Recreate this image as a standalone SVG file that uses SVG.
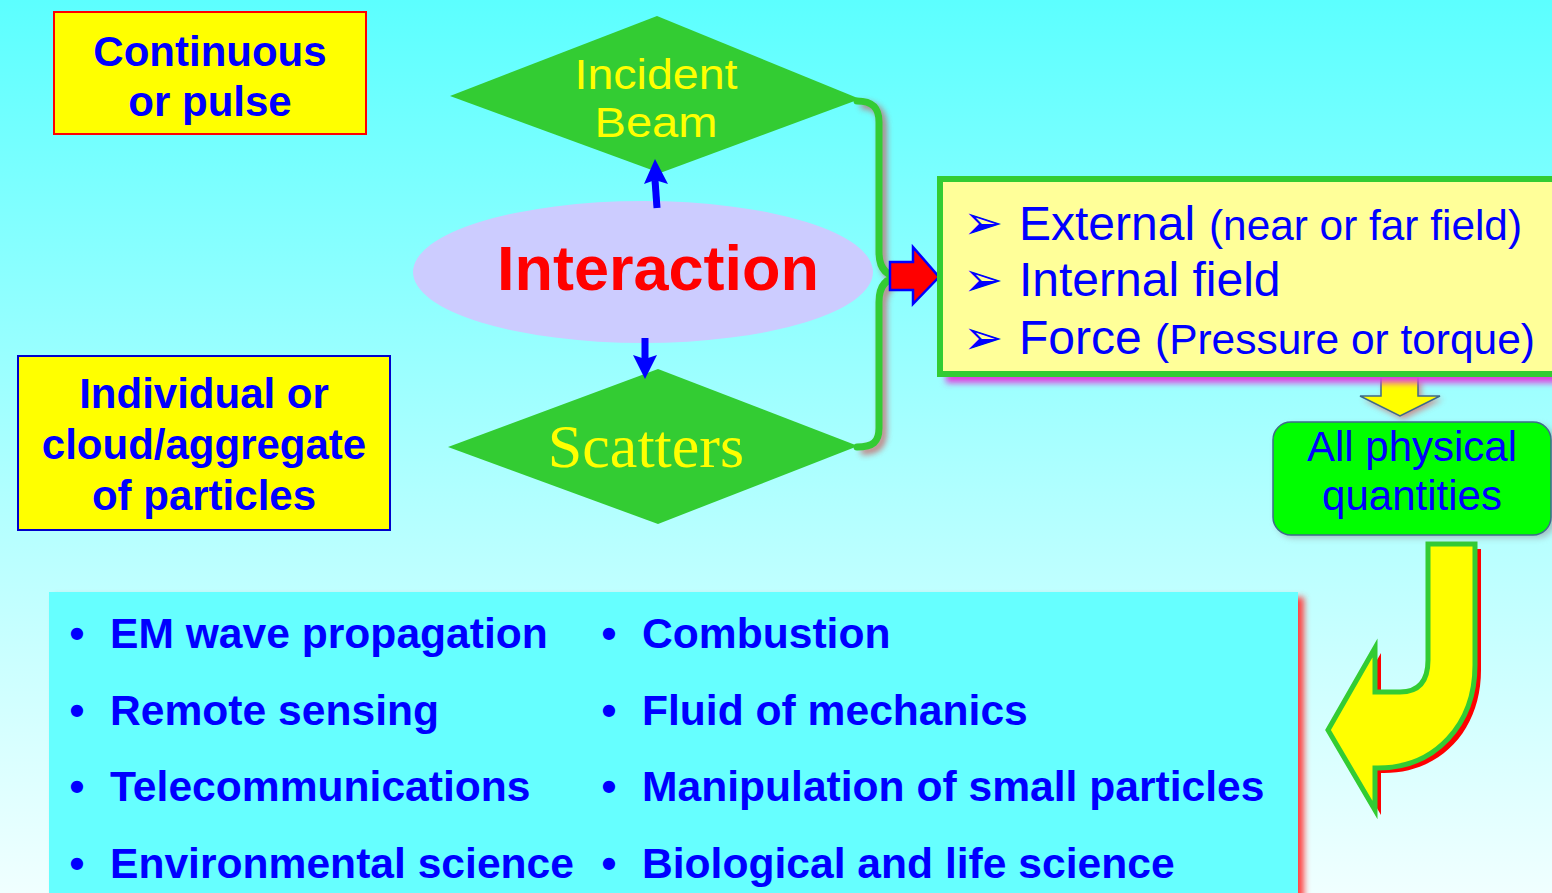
<svg xmlns="http://www.w3.org/2000/svg" width="1552" height="893" viewBox="0 0 1552 893">
  <defs>
    <linearGradient id="bg" x1="0" y1="0" x2="0" y2="1">
      <stop offset="0" stop-color="#5CFFFF"/>
      <stop offset="0.55" stop-color="#B0FFFF"/>
      <stop offset="1" stop-color="#F0FFFF"/>
    </linearGradient>
    <filter id="blur" x="-20%" y="-20%" width="140%" height="140%">
      <feGaussianBlur stdDeviation="3"/>
    </filter>
    <style>
      .bold { font-family: "Liberation Sans", Arial, sans-serif; font-weight: bold; }
      .reg { font-family: "Liberation Sans", Arial, sans-serif; }
      .blue { fill: #0000FF; }
      .ybox { fill: #FFFF00; stroke-width: 2; }
      .diamond { fill: #33CC33; }
      .list { font-family: "Liberation Sans", Arial, sans-serif; font-weight: bold; font-size: 42.6px; fill: #0000FF; }
      .arrowbullet { font-family: "DejaVu Sans", sans-serif; font-size: 48px; fill: #0000FF; }
    </style>
  </defs>

  <rect x="0" y="0" width="1552" height="893" fill="url(#bg)"/>

  <g id="continuous">
    <rect class="ybox" x="54" y="12" width="312" height="122" stroke="#FF0000"/>
    <text class="bold blue" font-size="42" text-anchor="middle" x="210" y="66">Continuous</text>
    <text class="bold blue" font-size="42" text-anchor="middle" x="210" y="116">or pulse</text>
  </g>

  <g id="particles">
    <rect class="ybox" x="18" y="356" width="372" height="174" stroke="#0000CC"/>
    <text class="bold blue" font-size="42" text-anchor="middle" x="204" y="408">Individual or</text>
    <text class="bold blue" font-size="42" text-anchor="middle" x="204" y="459">cloud/aggregate</text>
    <text class="bold blue" font-size="42" text-anchor="middle" x="204" y="510">of particles</text>
  </g>

  <g id="incident">
    <polygon class="diamond" points="450,96 657,16 860,99 660,173"/>
    <text class="reg" font-size="43" fill="#FFFF00" text-anchor="middle" x="656" y="89" textLength="163" lengthAdjust="spacingAndGlyphs">Incident</text>
    <text class="reg" font-size="43" fill="#FFFF00" text-anchor="middle" x="656" y="137" textLength="123" lengthAdjust="spacingAndGlyphs">Beam</text>
  </g>

  <g id="scatters">
    <polygon class="diamond" points="448,447 658,369 858,446 658,524"/>
    <text font-family="'Liberation Serif', 'Times New Roman', serif" font-size="62" fill="#FFFF00" text-anchor="middle" x="646" y="467">Scatters</text>
  </g>

  <g id="interaction">
    <ellipse cx="643" cy="272" rx="230" ry="71" fill="#CCCCFF"/>
    <text class="bold" font-size="63" fill="#FF0000" text-anchor="middle" x="658" y="290">Interaction</text>
  </g>

  <g id="connectors">
    <!-- blue arrows -->
    <line x1="657" y1="208" x2="655" y2="180" stroke="#0000FF" stroke-width="7"/>
    <polygon points="655,159 668,184 655,180 644,184" fill="#0000FF"/>
    <line x1="645" y1="338" x2="645" y2="360" stroke="#0000FF" stroke-width="7"/>
    <polygon points="645,379 657,355 645,359 633,355" fill="#0000FF"/>
    <!-- brace -->
    <path d="M 857 101 C 873 101, 879 108, 879 122 L 879 252 C 879 268, 886 277, 902 277 C 886 277, 879 286, 879 302 L 879 428 C 879 442, 873 447, 857 447" fill="none" stroke="#CC5555" stroke-width="7" filter="url(#blur)" transform="translate(4,4)" opacity="0.8"/>
    <path d="M 857 101 C 873 101, 879 108, 879 122 L 879 252 C 879 268, 886 277, 902 277 C 886 277, 879 286, 879 302 L 879 428 C 879 442, 873 447, 857 447" fill="none" stroke="#33CC33" stroke-width="7" stroke-linecap="round" stroke-linejoin="round"/>
    <!-- red block arrow -->
    <path d="M 890 262 L 913 262 L 913 247 L 939 277 L 913 304 L 913 290 L 890 290 Z" fill="#FF0000" stroke="#0000FF" stroke-width="2.5" stroke-linejoin="miter"/>
    <!-- small yellow down arrow -->
    <path d="M 1381 377 L 1418 377 L 1418 396 L 1440 396 L 1400 416 L 1360 396 L 1381 396 Z" fill="#DD5555" filter="url(#blur)" transform="translate(3,3)" opacity="0.7"/>
    <path d="M 1381 377 L 1418 377 L 1418 396 L 1440 396 L 1400 416 L 1360 396 L 1381 396 Z" fill="#FFFF00" stroke="#3E6B8A" stroke-width="1.5"/>
    <!-- big curved arrow -->
    <path d="M 1428 544 L 1428 660 Q 1428 692 1400 692 L 1375 692 L 1375 648 L 1328 730 L 1375 810 L 1375 768 L 1378 768 C 1435 768 1475 725 1475 665 L 1475 544 Z" fill="#FF0000" transform="translate(6,5)"/>
    <path d="M 1428 544 L 1428 660 Q 1428 692 1400 692 L 1375 692 L 1375 648 L 1328 730 L 1375 810 L 1375 768 L 1378 768 C 1435 768 1475 725 1475 665 L 1475 544 Z" fill="#FFFF00" stroke="#33CC33" stroke-width="5" stroke-linejoin="miter"/>
  </g>

  <g id="results">
    <rect x="946" y="186" width="620" height="197" fill="#E040E0" filter="url(#blur)"/>
    <rect x="940" y="179" width="620" height="195" fill="#FFFF99" stroke="#33CC33" stroke-width="6"/>
    <text class="arrowbullet" x="963" y="239">➢</text>
    <text class="arrowbullet" x="963" y="296">➢</text>
    <text class="arrowbullet" x="963" y="354">➢</text>
    <text class="reg blue" font-size="48" x="1019" y="240">External</text>
    <text class="reg blue" font-size="42" x="1209" y="240" textLength="313" lengthAdjust="spacingAndGlyphs">(near or far field)</text>
    <text class="reg blue" font-size="48" x="1019" y="296">Internal field</text>
    <text class="reg blue" font-size="48" x="1019" y="354">Force</text>
    <text class="reg blue" font-size="42" x="1155" y="354" textLength="380" lengthAdjust="spacingAndGlyphs">(Pressure or torque)</text>
  </g>

  <g id="quantities">
    <rect x="1276" y="425" width="280" height="113" rx="18" fill="#888888" opacity="0.5" filter="url(#blur)"/>
    <rect x="1273" y="422" width="278" height="113" rx="18" fill="#00FF00" stroke="#3E6B8A" stroke-width="1.5"/>
    <text class="reg blue" font-size="42" text-anchor="middle" x="1412" y="461">All physical</text>
    <text class="reg blue" font-size="42" text-anchor="middle" x="1412" y="510">quantities</text>
  </g>

  <g id="applications">
    <rect x="55" y="597" width="1249" height="310" fill="#FF4444" filter="url(#blur)"/>
    <rect x="49" y="592" width="1249" height="305" fill="#66FFFF"/>
    <text class="list" text-anchor="middle" x="77" y="648">•</text>
    <text class="list" x="110" y="648">EM wave propagation</text>
    <text class="list" text-anchor="middle" x="77" y="725">•</text>
    <text class="list" x="110" y="725">Remote sensing</text>
    <text class="list" text-anchor="middle" x="77" y="801">•</text>
    <text class="list" x="110" y="801">Telecommunications</text>
    <text class="list" text-anchor="middle" x="77" y="878">•</text>
    <text class="list" x="110" y="878">Environmental science</text>
    <text class="list" text-anchor="middle" x="609" y="648">•</text>
    <text class="list" x="642" y="648">Combustion</text>
    <text class="list" text-anchor="middle" x="609" y="725">•</text>
    <text class="list" x="642" y="725">Fluid of mechanics</text>
    <text class="list" text-anchor="middle" x="609" y="801">•</text>
    <text class="list" x="642" y="801">Manipulation of small particles</text>
    <text class="list" text-anchor="middle" x="609" y="878">•</text>
    <text class="list" x="642" y="878">Biological and life science</text>
  </g>
</svg>
